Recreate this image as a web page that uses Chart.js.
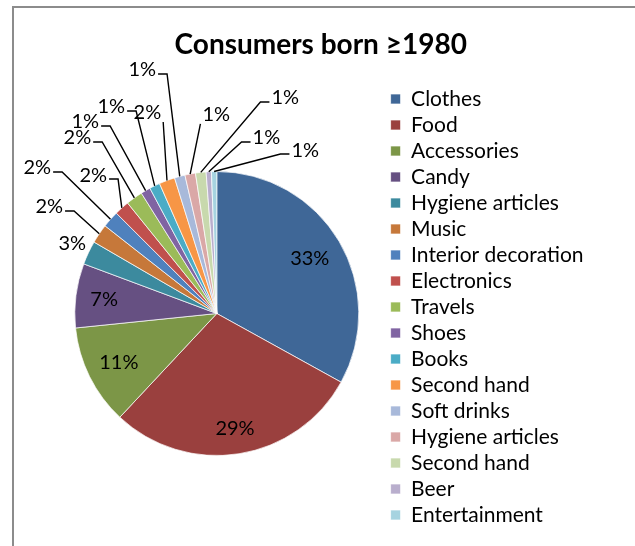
<!DOCTYPE html>
<html>
<head>
<meta charset="utf-8">
<title>Consumers born ≥1980</title>
<script src="https://cdn.jsdelivr.net/npm/chart.js@4.4.1/dist/chart.umd.min.js"></script>
<style>
  html, body { margin: 0; padding: 0; background: #fff; overflow: hidden; }
  #frame {
    position: absolute; left: 12px; top: 6px; width: 700px; height: 600px;
    border-left: 2px solid #8c8c8c; border-top: 2px solid #8c8c8c;
  }
  #wrap { position: absolute; left: 0; top: 0; width: 635px; height: 546px; }
</style>
</head>
<body>
<div id="frame"></div>
<div id="wrap"><canvas id="chart" width="635" height="546"></canvas></div>
<script>
// Purchase categories and their share of answers (percent)
const categories = [
  'Clothes', 'Food', 'Accessories', 'Candy', 'Hygiene articles', 'Music',
  'Interior decoration', 'Electronics', 'Travels', 'Shoes', 'Books',
  'Second hand', 'Soft drinks', 'Hygiene articles', 'Second hand', 'Beer',
  'Entertainment'
];
const shares = [
  33.0, 28.9, 11.4, 7.3, 2.7, 2.2,
  1.9, 1.7, 1.9, 1.1, 1.2,
  1.8, 1.2, 1.2, 1.2, 0.6,
  0.6
];
const sliceColors = [
  '#3f6797', '#9a403e', '#7c9647', '#665082', '#3c8a9e', '#c6783a',
  '#4f81bd', '#c0504d', '#9bbb59', '#8064a2', '#4bacc6',
  '#f79646', '#a8b9da', '#daa8a7', '#c8d9ad', '#b9aecd',
  '#a6d3e0'
];
const chartTitle = 'Consumers born ≥1980';

const FONT = "Lato, 'DejaVu Sans', sans-serif";

// Radial position (fraction of radius) of the labels drawn inside the large slices
const insideRadius = [0.76, 0.82, 0.77, 0.80];
// Outside label centres relative to the pie centre, in radius units; flag = leader line
const outsideSpots = [
  null, null, null, null,
  [-1.018, -0.496, false],
  [-1.180, -0.750, true],
  [-1.264, -1.025, true],
  [-0.870, -0.975, true],
  [-0.982, -1.236, true],
  [-0.926, -1.349, true],
  [-0.743, -1.454, true],
  [-0.489, -1.412, true],
  [-0.525, -1.715, true],
  [-0.004, -1.398, true],
  [ 0.482, -1.518, true],
  [ 0.349, -1.236, true],
  [ 0.623, -1.151, true]
];

const sliceLabels = {
  id: 'sliceLabels',
  afterDatasetsDraw(chart) {
    const ctx = chart.ctx;
    const meta = chart.getDatasetMeta(0);
    const vals = chart.data.datasets[0].data;
    const total = vals.reduce((a, b) => a + b, 0);
    ctx.save();
    ctx.font = '20px ' + FONT;
    ctx.fillStyle = '#000';
    ctx.strokeStyle = '#000';
    ctx.lineWidth = 1.4;
    ctx.textAlign = 'center';
    ctx.textBaseline = 'middle';
    meta.data.forEach((arc, i) => {
      const p = arc.getProps(['x', 'y', 'startAngle', 'endAngle', 'outerRadius'], true);
      const R = p.outerRadius;
      const mid = (p.startAngle + p.endAngle) / 2;
      const text = Math.round(vals[i] / total * 100) + '%';
      if (i < insideRadius.length) {
        const r = insideRadius[i] * R;
        ctx.fillText(text, p.x + Math.cos(mid) * r, p.y + Math.sin(mid) * r);
        return;
      }
      const [ux, uy, lead] = outsideSpots[i];
      const lx = p.x + ux * R;
      const ly = p.y + uy * R;
      ctx.fillText(text, lx, ly);
      if (!lead) return;
      const ax = p.x + Math.cos(mid) * R;
      const ay = p.y + Math.sin(mid) * R;
      const half = ctx.measureText(text).width / 2 + 2;
      const left = lx - half, right = lx + half, bottom = ly + 9;
      ctx.beginPath();
      if (ax > right + 12) {
        ctx.moveTo(right, ly + 4);
        ctx.lineTo(right + 9, ly + 4);
      } else if (ax < left - 12) {
        ctx.moveTo(left, ly + 4);
        ctx.lineTo(left - 9, ly + 4);
      } else {
        ctx.moveTo(Math.min(Math.max(ax, left), right), bottom);
      }
      ctx.lineTo(ax, ay);
      ctx.stroke();
    });
    ctx.restore();
  }
};

new Chart(document.getElementById('chart'), {
  type: 'pie',
  data: {
    labels: categories,
    datasets: [{
      data: shares,
      backgroundColor: sliceColors,
      borderColor: 'rgba(255,255,255,0.7)',
      borderWidth: 1,
      radius: 142
    }]
  },
  options: {
    responsive: false,
    animation: false,
    layout: { padding: { left: 48, right: 41.5, top: 0, bottom: 2.5 } },
    plugins: {
      title: {
        display: true,
        text: chartTitle,
        color: '#000',
        font: { family: FONT, size: 28, weight: 'bold' },
        padding: { top: 28.2, bottom: 21.7 }
      },
      legend: {
        position: 'right',
        align: 'start',
        fullSize: false,
        labels: {
          boxWidth: 10,
          boxHeight: 10,
          padding: 5,
          color: '#000',
          font: { family: FONT, size: 21 }
        }
      },
      tooltip: { enabled: false }
    }
  },
  plugins: [sliceLabels]
});
</script>
</body>
</html>
